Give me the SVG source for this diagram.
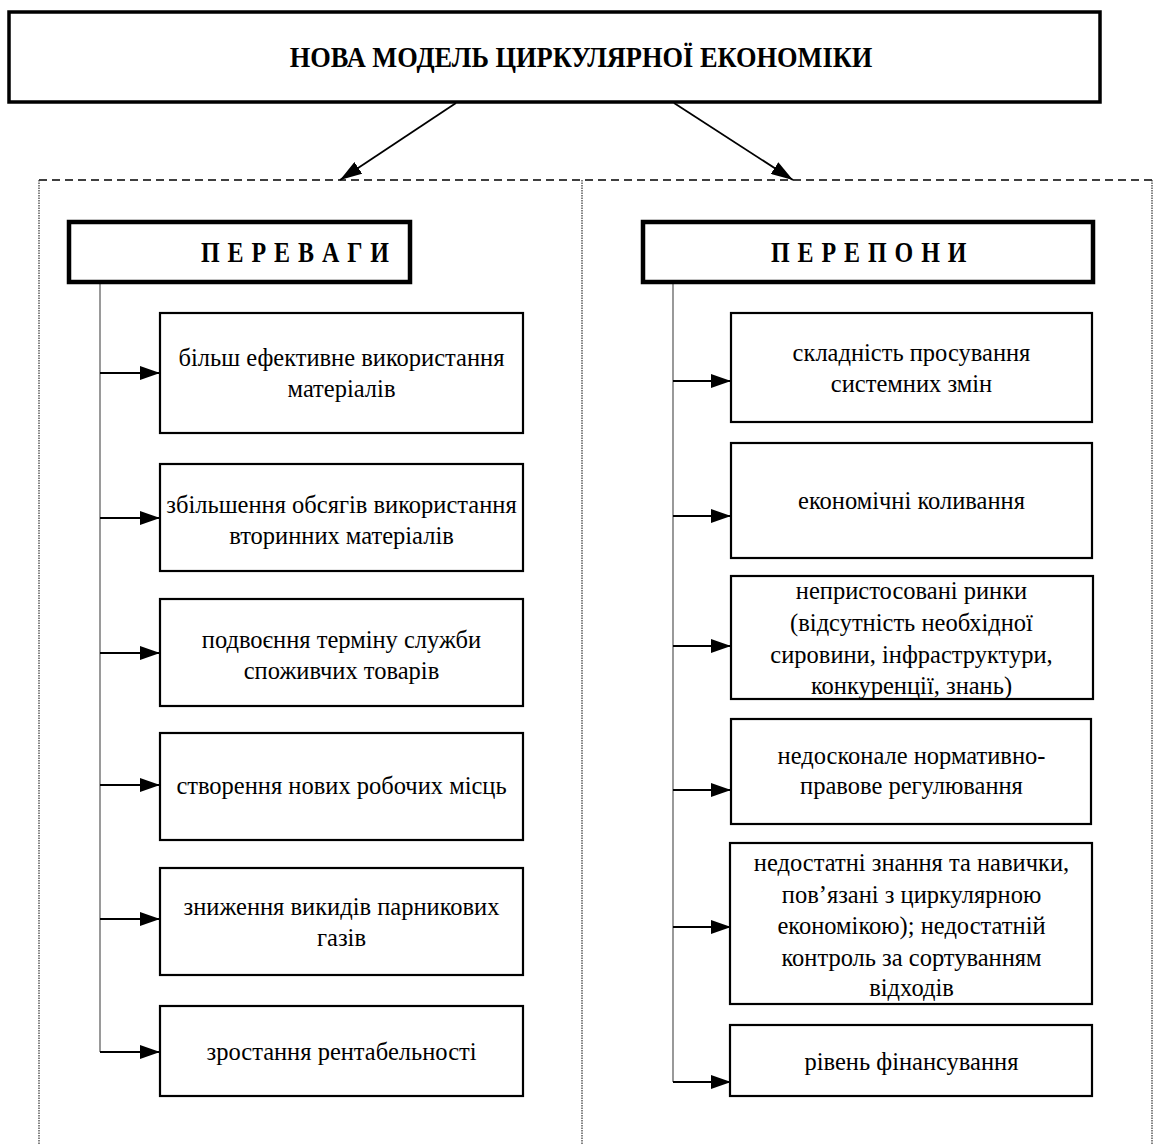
<svg xmlns="http://www.w3.org/2000/svg" width="1156" height="1144" viewBox="0 0 1156 1144">
  <style>
    .bg { fill: #ffffff; }
    .title { font-family: "Liberation Serif", "Times New Roman", serif; font-size: 29px; font-weight: bold; fill: #000; text-anchor: middle; }
    .head { font-family: "Liberation Serif", "Times New Roman", serif; font-size: 30px; font-weight: bold; fill: #000; letter-spacing: 1.2px; }
    .txt { font-family: "Liberation Serif", "Times New Roman", serif; font-size: 24.5px; fill: #000; text-anchor: middle; }
    .box { fill: #fff; stroke: #000; stroke-width: 2.2; }
    .hbox { fill: #fff; stroke: #000; stroke-width: 4.5; }
    .tbox { fill: #fff; stroke: #000; stroke-width: 3.5; }
    .frame-top { stroke: #000; stroke-width: 1.3; stroke-dasharray: 8 5; fill: none; }
    .frame-side { stroke: #333; stroke-width: 1.2; stroke-dasharray: 1.5 1; fill: none; }
    .trunk { stroke: #808080; stroke-width: 1.6; fill: none; }
    .branch { stroke: #000; stroke-width: 2; fill: none; marker-end: url(#tri); }
    .main { stroke: #000; stroke-width: 1.8; fill: none; marker-end: url(#tri2); }
  </style>
  <defs>
    <marker id="tri" viewBox="0 0 20 14" refX="20" refY="7" markerWidth="20" markerHeight="14" markerUnits="userSpaceOnUse" orient="auto">
      <path d="M0,0 L20,7 L0,14 Z" fill="#000"/>
    </marker>
    <marker id="tri2" viewBox="0 0 22 14" refX="22" refY="7" markerWidth="22" markerHeight="14" markerUnits="userSpaceOnUse" orient="auto">
      <path d="M0,0 L22,7 L0,14 Z" fill="#000"/>
    </marker>
  </defs>
  <rect class="bg" x="0" y="0" width="1156" height="1144"/>

  <!-- frames around the two columns -->
  <g id="frames">
    <line class="frame-top" x1="39" y1="180" x2="1152" y2="180"/>
    <line class="frame-side" x1="39" y1="180" x2="39" y2="1144"/>
    <line class="frame-side" x1="582" y1="180" x2="582" y2="1144"/>
    <line class="frame-side" x1="1152" y1="180" x2="1152" y2="1144"/>
  </g>

  <!-- connectors -->
  <g id="connectors">
    <line class="main" x1="456" y1="103" x2="340" y2="180"/>
    <line class="main" x1="674" y1="103" x2="793" y2="180"/>
    <line class="trunk" x1="100" y1="284" x2="100" y2="1052"/>
    <line class="trunk" x1="673" y1="284" x2="673" y2="1082"/>
    <line class="branch" x1="100" y1="373" x2="160" y2="373"/>
    <line class="branch" x1="100" y1="518" x2="160" y2="518"/>
    <line class="branch" x1="100" y1="653" x2="160" y2="653"/>
    <line class="branch" x1="100" y1="785" x2="160" y2="785"/>
    <line class="branch" x1="100" y1="919" x2="160" y2="919"/>
    <line class="branch" x1="100" y1="1052" x2="160" y2="1052"/>
    <line class="branch" x1="673" y1="381" x2="731" y2="381"/>
    <line class="branch" x1="673" y1="516" x2="731" y2="516"/>
    <line class="branch" x1="673" y1="646" x2="731" y2="646"/>
    <line class="branch" x1="673" y1="790" x2="731" y2="790"/>
    <line class="branch" x1="673" y1="927" x2="731" y2="927"/>
    <line class="branch" x1="673" y1="1082" x2="731" y2="1082"/>
  </g>

  <g id="title">
    <rect class="tbox" x="9" y="12" width="1091" height="90"/>
    <text class="title" transform="translate(581,67) scale(0.91,1)">НОВА МОДЕЛЬ ЦИРКУЛЯРНОЇ ЕКОНОМІКИ</text>
  </g>

  <g id="advantages">
    <rect class="hbox" x="69" y="222" width="341" height="60"/>
    <text class="head" transform="translate(201,262) scale(0.8,1)">П Е Р Е В А Г И</text>
  </g>
  <g id="barriers">
    <rect class="hbox" x="643" y="222" width="450" height="60"/>
    <text class="head" transform="translate(771,262) scale(0.8,1)">П Е Р Е П О Н И</text>
  </g>

  <g id="adv-1">
    <rect class="box" x="160" y="313" width="363" height="120"/>
    <text class="txt" x="341.5" y="366">більш ефективне використання</text>
    <text class="txt" x="341.5" y="397">матеріалів</text>
  </g>
  <g id="adv-2">
    <rect class="box" x="160" y="464" width="363" height="107"/>
    <text class="txt" x="341.5" y="513">збільшення обсягів використання</text>
    <text class="txt" x="341.5" y="544">вторинних матеріалів</text>
  </g>
  <g id="adv-3">
    <rect class="box" x="160" y="599" width="363" height="107"/>
    <text class="txt" x="341.5" y="648">подвоєння терміну служби</text>
    <text class="txt" x="341.5" y="679">споживчих товарів</text>
  </g>
  <g id="adv-4">
    <rect class="box" x="160" y="733" width="363" height="107"/>
    <text class="txt" x="341.5" y="794">створення нових робочих місць</text>
  </g>
  <g id="adv-5">
    <rect class="box" x="160" y="868" width="363" height="107"/>
    <text class="txt" x="341.5" y="915">зниження викидів парникових</text>
    <text class="txt" x="341.5" y="946">газів</text>
  </g>
  <g id="adv-6">
    <rect class="box" x="160" y="1006" width="363" height="90"/>
    <text class="txt" x="341.5" y="1060">зростання рентабельності</text>
  </g>

  <g id="bar-1">
    <rect class="box" x="731" y="313" width="361" height="109"/>
    <text class="txt" x="911.5" y="361">складність просування</text>
    <text class="txt" x="911.5" y="392">системних змін</text>
  </g>
  <g id="bar-2">
    <rect class="box" x="731" y="443" width="361" height="115"/>
    <text class="txt" x="911.5" y="509">економічні коливання</text>
  </g>
  <g id="bar-3">
    <rect class="box" x="731" y="576" width="362" height="123"/>
    <text class="txt" x="911.5" y="599">непристосовані ринки</text>
    <text class="txt" x="911.5" y="631">(відсутність необхідної</text>
    <text class="txt" x="911.5" y="663">сировини, інфраструктури,</text>
    <text class="txt" x="911.5" y="694">конкуренції, знань)</text>
  </g>
  <g id="bar-4">
    <rect class="box" x="731" y="719" width="360" height="105"/>
    <text class="txt" x="911.5" y="764">недосконале нормативно-</text>
    <text class="txt" x="911.5" y="794">правове регулювання</text>
  </g>
  <g id="bar-5">
    <rect class="box" x="730" y="843" width="362" height="161"/>
    <text class="txt" x="911.5" y="871">недостатні знання та навички,</text>
    <text class="txt" x="911.5" y="903">пов’язані з циркулярною</text>
    <text class="txt" x="911.5" y="934">економікою); недостатній</text>
    <text class="txt" x="911.5" y="966">контроль за сортуванням</text>
    <text class="txt" x="911.5" y="996">відходів</text>
  </g>
  <g id="bar-6">
    <rect class="box" x="730" y="1025" width="362" height="71"/>
    <text class="txt" x="911.5" y="1070">рівень фінансування</text>
  </g>
</svg>
